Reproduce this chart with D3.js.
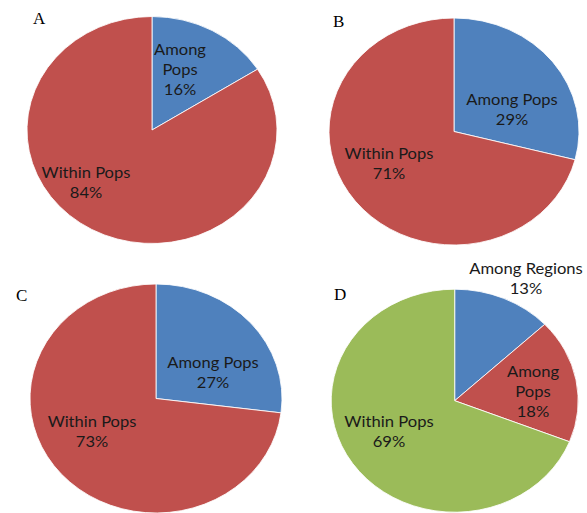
<!DOCTYPE html>
<html>
<head>
<meta charset="utf-8">
<script src="https://cdn.jsdelivr.net/npm/d3@7"></script>
<style>
  html, body { margin: 0; padding: 0; background: #fff; }
  svg { display: block; }
</style>
</head>
<body>
<svg id="chart" width="587" height="513"></svg>
<script>
// Variance components for each panel (percent of total)
const panelNames = ["A", "B", "C", "D"];
const categoriesAC = ["Among Pops", "Within Pops"];
const categoriesD = ["Among Regions", "Among Pops", "Within Pops"];
const valuesA = [16, 84];
const valuesB = [29, 71];
const valuesC = [27, 73];
const valuesD = [13, 18, 69];

const colorsTwo = ["#4F81BD", "#C0504D"];
const colorsThree = ["#4F81BD", "#C0504D", "#9BBB59"];

// Layout of each pie: centre, radii (the pies are drawn as slightly wide ellipses)
const layout = [
  { cx: 152, cy: 130, rx: 125, ry: 113.5, letter: [33, 24],
    labels: [ { lines: ["Among", "Pops"], x: 180, y: 50 },
              { lines: ["Within Pops"], x: 86, y: 173 } ] },
  { cx: 454, cy: 131.5, rx: 125, ry: 113.5, letter: [333, 27],
    labels: [ { lines: ["Among Pops"], x: 512, y: 100 },
              { lines: ["Within Pops"], x: 389, y: 154 } ] },
  { cx: 156, cy: 398.5, rx: 126, ry: 114.5, letter: [16, 301],
    labels: [ { lines: ["Among Pops"], x: 213, y: 363 },
              { lines: ["Within Pops"], x: 92, y: 422 } ] },
  { cx: 454.7, cy: 400.7, rx: 123.5, ry: 111.5, letter: [334, 300],
    labels: [ { lines: ["Among Regions"], x: 526, y: 269 },
              { lines: ["Among", "Pops"], x: 533, y: 372 },
              { lines: ["Within Pops"], x: 389, y: 422 } ] }
];

const panels = [
  { name: panelNames[0], cats: categoriesAC, vals: valuesA, colors: colorsTwo },
  { name: panelNames[1], cats: categoriesAC, vals: valuesB, colors: colorsTwo },
  { name: panelNames[2], cats: categoriesAC, vals: valuesC, colors: colorsTwo },
  { name: panelNames[3], cats: categoriesD, vals: valuesD, colors: colorsThree }
];

const svg = d3.select("#chart");
const pie = d3.pie().sort(null).value(d => d);
const lineH = 20;
const labelFont = "Lato, 'Open Sans', sans-serif";

panels.forEach((p, i) => {
  const L = layout[i];
  const sx = L.rx / L.ry;
  const color = d3.scaleOrdinal().domain(p.cats).range(p.colors);
  const arc = d3.arc().innerRadius(0).outerRadius(L.ry);

  const g = svg.append("g")
    .attr("transform", `translate(${L.cx},${L.cy}) scale(${sx},1)`);

  g.selectAll("path")
    .data(pie(p.vals))
    .join("path")
    .attr("d", arc)
    .attr("fill", (d, j) => color(p.cats[j]))
    .attr("stroke", "#fff")
    .attr("stroke-width", 0.8);

  // Panel letter
  svg.append("text")
    .attr("x", L.letter[0])
    .attr("y", L.letter[1])
    .attr("font-family", "'Liberation Serif', 'Times New Roman', serif")
    .attr("font-size", 17)
    .attr("fill", "#000")
    .text(p.name);

  // Slice labels: category name lines followed by the percentage
  L.labels.forEach((lab, j) => {
    const lines = lab.lines.concat([p.vals[j] + "%"]);
    const t = svg.append("g")
      .attr("transform", `translate(${lab.x},${lab.y}) scale(${sx},1)`);
    lines.forEach((s, k) => {
      t.append("text")
        .attr("x", 0)
        .attr("y", k * lineH)
        .attr("dy", "0.35em")
        .attr("text-anchor", "middle")
        .attr("font-family", labelFont)
        .attr("font-size", 15)
        .attr("fill", "#1a1a1a")
        .text(s);
    });
  });
});
</script>
</body>
</html>
